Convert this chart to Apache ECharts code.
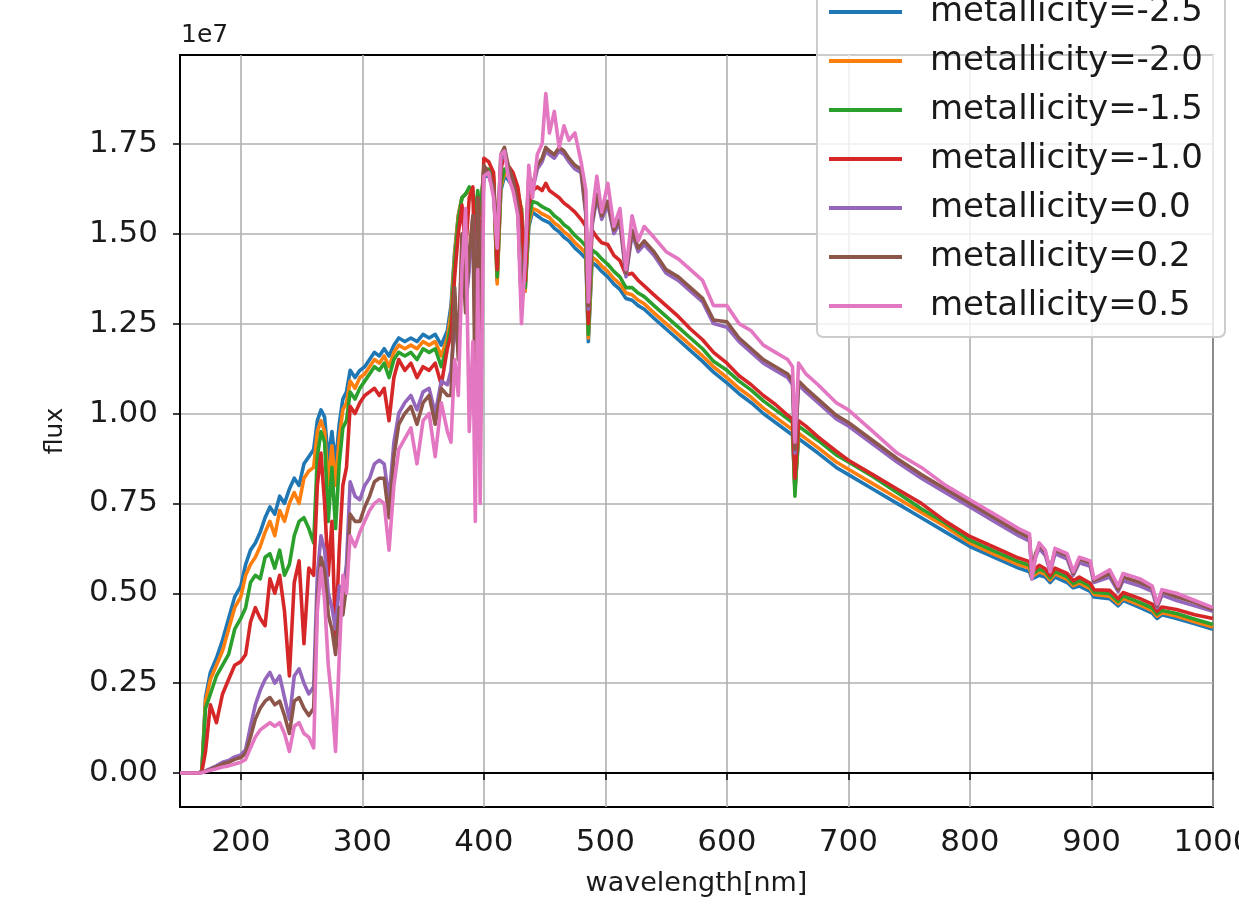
<!DOCTYPE html>
<html>
<head>
<meta charset="utf-8">
<script src="https://cdn.jsdelivr.net/npm/echarts@6/dist/echarts.min.js"></script>
<style>
html, body { margin: 0; padding: 0; background: #ffffff; }
#chart { width: 1239px; height: 919px; }
</style>
</head>
<body>
<div id="chart"></div>
<script>
// Wavelength grid in nm
const wavelength = [
  150,165,168,171,175,180,185,190,195,200,
  204,208,212,216,220,224,228,232,236,240,
  244,248,252,256,260,263,266,269,272,275,
  278,281,284,287,290,294,298,302,306,310,
  314,318,322,326,330,335,340,345,350,355,
  360,365,370,373,376,379,382,385,388,391,
  393,395,397,400,404,408,411,414,417,420,
  424,428,431,434,437,440,444,448,451,454,
  458,462,466,470,475,480,484,486,489,493,
  497,502,507,512,517,522,527,532,540,550,
  560,570,580,589,600,610,620,630,640,650,
  654,656,659,665,675,690,700,720,740,760,
  780,800,820,840,849,851,854,857,862,866,
  870,880,885,890,899,902,915,922,926,940,
  950,954,958,970,985,1000
];

// Flux in units of 1e7, one array per metallicity
const fluxM25 = [
  0,0,0.005,0.21,0.28,0.32,0.37,0.43,0.49,0.52,
  0.58,0.62,0.64,0.67,0.71,0.74,0.72,0.77,0.75,0.79,
  0.82,0.80,0.86,0.88,0.90,0.98,1.01,0.99,0.87,0.95,
  0.86,0.97,1.04,1.06,1.12,1.10,1.12,1.13,1.15,1.17,
  1.16,1.18,1.16,1.19,1.21,1.20,1.21,1.20,1.22,1.21,
  1.22,1.19,1.23,1.30,1.45,1.55,1.60,1.61,1.62,1.60,
  1.56,1.61,1.57,1.66,1.66,1.64,1.37,1.62,1.66,1.65,
  1.63,1.60,1.57,1.34,1.52,1.56,1.55,1.54,1.535,1.53,
  1.515,1.505,1.49,1.48,1.46,1.445,1.43,1.20,1.42,1.41,
  1.395,1.38,1.36,1.345,1.32,1.315,1.30,1.29,1.265,1.235,
  1.205,1.175,1.145,1.115,1.085,1.055,1.03,1.00,0.975,0.95,
  0.94,0.79,0.93,0.915,0.89,0.85,0.83,0.79,0.75,0.71,
  0.67,0.63,0.60,0.57,0.56,0.54,0.545,0.55,0.545,0.53,
  0.545,0.53,0.515,0.52,0.505,0.49,0.485,0.465,0.48,0.46,
  0.445,0.43,0.44,0.43,0.415,0.40
];
const fluxM20 = [
  0,0,0.004,0.20,0.26,0.30,0.34,0.40,0.46,0.49,
  0.55,0.58,0.60,0.63,0.67,0.70,0.66,0.73,0.70,0.75,
  0.78,0.75,0.82,0.84,0.85,0.95,0.98,0.95,0.80,0.91,
  0.80,0.93,1.01,1.03,1.09,1.07,1.10,1.11,1.13,1.15,
  1.14,1.16,1.13,1.17,1.19,1.18,1.19,1.18,1.20,1.19,
  1.20,1.16,1.21,1.28,1.44,1.55,1.60,1.61,1.62,1.61,
  1.55,1.61,1.56,1.67,1.67,1.65,1.36,1.63,1.67,1.66,
  1.64,1.61,1.57,1.34,1.53,1.57,1.565,1.555,1.55,1.545,
  1.53,1.52,1.505,1.495,1.475,1.46,1.445,1.21,1.435,1.425,
  1.41,1.395,1.375,1.36,1.335,1.33,1.315,1.305,1.28,1.25,
  1.22,1.19,1.16,1.13,1.10,1.07,1.045,1.015,0.99,0.965,
  0.955,0.785,0.945,0.93,0.905,0.865,0.845,0.805,0.765,0.725,
  0.685,0.64,0.608,0.58,0.57,0.546,0.553,0.56,0.553,0.537,
  0.554,0.539,0.521,0.529,0.513,0.497,0.492,0.471,0.486,0.467,
  0.452,0.436,0.446,0.437,0.421,0.406
];
const fluxM15 = [
  0,0,0.004,0.18,0.22,0.27,0.30,0.33,0.40,0.43,
  0.46,0.53,0.55,0.54,0.60,0.61,0.57,0.62,0.55,0.58,
  0.66,0.70,0.71,0.68,0.64,0.88,0.95,0.92,0.70,0.85,
  0.68,0.86,0.96,0.98,1.06,1.04,1.07,1.09,1.11,1.13,
  1.12,1.14,1.10,1.15,1.17,1.16,1.17,1.15,1.18,1.17,
  1.18,1.13,1.19,1.25,1.42,1.54,1.60,1.61,1.63,1.62,
  1.52,1.62,1.55,1.68,1.68,1.66,1.38,1.64,1.68,1.67,
  1.65,1.62,1.56,1.35,1.54,1.59,1.585,1.575,1.57,1.565,
  1.55,1.54,1.525,1.515,1.495,1.48,1.465,1.22,1.455,1.445,
  1.43,1.415,1.395,1.38,1.35,1.35,1.335,1.325,1.30,1.27,
  1.24,1.21,1.18,1.145,1.12,1.09,1.065,1.035,1.01,0.985,
  0.975,0.77,0.965,0.95,0.925,0.885,0.865,0.825,0.78,0.735,
  0.695,0.648,0.617,0.588,0.578,0.553,0.56,0.567,0.56,0.543,
  0.561,0.546,0.527,0.536,0.52,0.503,0.499,0.477,0.493,0.474,
  0.459,0.442,0.452,0.444,0.428,0.413
];
const fluxM10 = [
  0,0,0.004,0.06,0.19,0.14,0.22,0.26,0.30,0.31,
  0.33,0.42,0.46,0.43,0.41,0.54,0.50,0.55,0.45,0.27,
  0.53,0.59,0.36,0.57,0.55,0.80,0.89,0.75,0.55,0.70,
  0.37,0.62,0.80,0.85,1.02,1.00,1.03,1.05,1.06,1.07,
  1.05,1.07,0.98,1.10,1.15,1.12,1.14,1.10,1.13,1.12,
  1.14,1.08,1.18,1.22,1.38,1.50,1.58,1.45,1.60,1.63,
  1.30,1.60,1.36,1.71,1.70,1.67,1.40,1.68,1.72,1.69,
  1.67,1.63,1.55,1.37,1.58,1.62,1.63,1.62,1.64,1.62,
  1.61,1.60,1.585,1.575,1.56,1.54,1.52,1.25,1.51,1.49,
  1.475,1.47,1.44,1.425,1.385,1.39,1.37,1.355,1.33,1.30,
  1.27,1.235,1.205,1.17,1.14,1.105,1.08,1.05,1.025,0.995,
  0.985,0.82,0.98,0.965,0.935,0.895,0.87,0.83,0.79,0.75,
  0.70,0.658,0.628,0.598,0.588,0.56,0.568,0.578,0.568,0.55,
  0.57,0.555,0.535,0.545,0.528,0.51,0.508,0.485,0.502,0.485,
  0.47,0.45,0.462,0.455,0.44,0.43
];
const fluxP00 = [
  0,0,0.002,0.006,0.012,0.02,0.03,0.035,0.045,0.05,
  0.065,0.13,0.19,0.23,0.26,0.28,0.25,0.27,0.21,0.15,
  0.27,0.29,0.25,0.22,0.24,0.55,0.66,0.62,0.50,0.46,
  0.40,0.52,0.50,0.58,0.81,0.77,0.76,0.80,0.82,0.86,
  0.87,0.86,0.76,0.92,1.00,1.03,1.05,1.01,1.06,1.07,
  1.00,1.09,1.08,1.12,1.25,1.18,1.45,1.30,1.40,1.55,
  1.20,1.55,1.28,1.68,1.66,1.62,1.47,1.70,1.73,1.68,
  1.64,1.57,1.30,1.44,1.64,1.62,1.68,1.70,1.73,1.72,
  1.71,1.73,1.72,1.70,1.68,1.67,1.55,1.29,1.52,1.60,
  1.54,1.58,1.50,1.53,1.38,1.50,1.45,1.47,1.44,1.39,
  1.37,1.34,1.31,1.25,1.24,1.20,1.17,1.14,1.12,1.10,
  1.08,0.89,1.08,1.06,1.03,0.985,0.965,0.915,0.865,0.82,
  0.78,0.74,0.70,0.66,0.645,0.56,0.60,0.625,0.605,0.56,
  0.61,0.595,0.55,0.585,0.575,0.53,0.545,0.505,0.535,0.52,
  0.505,0.46,0.495,0.48,0.465,0.45
];
const fluxP02 = [
  0,0,0.002,0.005,0.01,0.017,0.025,0.03,0.038,0.043,
  0.055,0.10,0.15,0.18,0.20,0.21,0.19,0.20,0.16,0.11,
  0.20,0.21,0.18,0.16,0.18,0.48,0.60,0.56,0.44,0.40,
  0.33,0.46,0.44,0.52,0.72,0.70,0.70,0.74,0.77,0.81,
  0.82,0.82,0.71,0.88,0.97,1.00,1.02,0.97,1.03,1.05,
  0.97,1.07,1.05,1.05,1.35,1.15,1.50,1.28,1.45,1.55,
  1.00,1.60,1.20,1.69,1.67,1.63,1.48,1.72,1.74,1.69,
  1.65,1.58,1.29,1.45,1.66,1.63,1.69,1.71,1.74,1.73,
  1.72,1.74,1.73,1.71,1.69,1.68,1.56,1.30,1.53,1.61,
  1.55,1.59,1.51,1.54,1.39,1.51,1.46,1.48,1.45,1.40,
  1.38,1.35,1.32,1.26,1.255,1.21,1.18,1.15,1.13,1.11,
  1.09,0.90,1.09,1.07,1.04,0.995,0.975,0.925,0.875,0.83,
  0.79,0.75,0.71,0.67,0.655,0.565,0.61,0.635,0.615,0.565,
  0.62,0.605,0.555,0.595,0.585,0.535,0.555,0.51,0.545,0.53,
  0.515,0.465,0.505,0.49,0.475,0.455
];
const fluxP05 = [
  0,0,0.001,0.004,0.008,0.012,0.017,0.02,0.025,0.03,
  0.038,0.07,0.10,0.12,0.13,0.14,0.13,0.14,0.11,0.06,
  0.13,0.14,0.11,0.10,0.07,0.45,0.57,0.48,0.30,0.20,
  0.06,0.32,0.55,0.50,0.66,0.63,0.67,0.70,0.73,0.75,
  0.76,0.75,0.62,0.80,0.90,0.93,0.96,0.86,0.98,1.00,
  0.88,1.03,0.95,0.92,1.15,1.05,1.40,1.57,0.95,1.20,
  0.70,1.40,0.75,1.66,1.67,1.60,1.46,1.72,1.73,1.66,
  1.62,1.55,1.25,1.42,1.69,1.60,1.72,1.75,1.89,1.78,
  1.84,1.74,1.80,1.76,1.78,1.70,1.62,1.31,1.55,1.66,
  1.56,1.64,1.52,1.57,1.40,1.55,1.48,1.52,1.49,1.45,
  1.43,1.40,1.37,1.30,1.30,1.25,1.23,1.19,1.17,1.15,
  1.13,0.92,1.14,1.11,1.08,1.03,1.01,0.95,0.89,0.85,
  0.80,0.76,0.72,0.68,0.665,0.54,0.60,0.64,0.62,0.56,
  0.625,0.61,0.56,0.60,0.59,0.54,0.565,0.52,0.555,0.54,
  0.52,0.47,0.51,0.50,0.48,0.46
];

const seriesNames = [
  'metallicity=-2.5', 'metallicity=-2.0', 'metallicity=-1.5', 'metallicity=-1.0',
  'metallicity=0.0', 'metallicity=0.2', 'metallicity=0.5'
];
const seriesFlux = [fluxM25, fluxM20, fluxM15, fluxM10, fluxP00, fluxP02, fluxP05];
const seriesColors = ['#1f77b4', '#ff7f0e', '#2ca02c', '#d62728', '#9467bd', '#8c564b', '#e377c2'];

const xTicks = [200, 300, 400, 500, 600, 700, 800, 900, 1000];
const yTicks = [0, 0.25, 0.5, 0.75, 1.0, 1.25, 1.5, 1.75];

const FONT = 'DejaVu Sans';
const TEXT = '#1a1a1a';

const chart = echarts.init(document.getElementById('chart'), null, { renderer: 'canvas' });

const series = seriesNames.map((name, k) => ({
  name: name,
  type: 'line',
  data: wavelength.map((w, i) => [w, seriesFlux[k][i]]),
  showSymbol: false,
  symbol: 'none',
  lineStyle: { width: 3.6, color: seriesColors[k], join: 'round' },
  itemStyle: { color: seriesColors[k] },
  clip: true,
  z: 3 + k
}));

chart.setOption({
  animation: false,
  backgroundColor: '#ffffff',
  color: seriesColors,
  textStyle: { fontFamily: FONT },
  grid: {
    left: 180, top: 55, right: 26, bottom: 112,
    outerBoundsMode: 'none',
    containLabel: false,
    show: true, borderColor: '#000000', borderWidth: 2, backgroundColor: 'transparent'
  },
  xAxis: {
    type: 'value',
    min: 150, max: 1000,
    name: 'wavelength[nm]',
    nameLocation: 'middle',
    nameGap: 63,
    nameTextStyle: { fontFamily: FONT, fontSize: 27, color: TEXT },
    axisLine: { show: true, lineStyle: { color: '#000000', width: 2 } },
    axisTick: { show: true, customValues: xTicks, length: 7, lineStyle: { color: '#000000', width: 1.5 } },
    axisLabel: {
      customValues: xTicks, margin: 20, fontFamily: FONT, fontSize: 31, color: TEXT,
      hideOverlap: false,
      formatter: v => String(v)
    },
    splitLine: { show: true, lineStyle: { color: '#b0b0b0', width: 1.6 } }
  },
  yAxis: {
    type: 'value',
    min: -0.0944, max: 1.997,
    name: 'flux',
    nameLocation: 'middle',
    nameRotate: 90,
    nameGap: 112,
    nameTextStyle: { fontFamily: FONT, fontSize: 25, color: TEXT },
    axisLine: { show: true, lineStyle: { color: '#000000', width: 2 } },
    axisTick: { show: true, customValues: yTicks, length: 7, lineStyle: { color: '#000000', width: 1.5 } },
    axisLabel: {
      customValues: yTicks, margin: 22, fontFamily: FONT, fontSize: 31, color: TEXT,
      formatter: v => v.toFixed(2)
    },
    splitLine: { show: true, lineStyle: { color: '#b0b0b0', width: 1.6 } }
  },
  legend: {
    show: true,
    orient: 'vertical',
    left: 817,
    top: -17,
    padding: [12, 22, 14, 12],
    icon: 'rect',
    itemWidth: 73,
    itemHeight: 4,
    itemGap: 15,
    data: seriesNames,
    textStyle: { fontFamily: FONT, fontSize: 34, color: TEXT, lineHeight: 32, padding: [0, 0, 0, 23] },
    backgroundColor: 'rgba(255,255,255,0.8)',
    borderColor: '#cccccc',
    borderWidth: 2,
    borderRadius: 6
  },
  graphic: [{
    type: 'text',
    left: 181,
    top: 23,
    style: { text: '1e7', fontFamily: FONT, fontSize: 25, fill: TEXT }
  }],
  series: series
});
</script>
</body>
</html>
